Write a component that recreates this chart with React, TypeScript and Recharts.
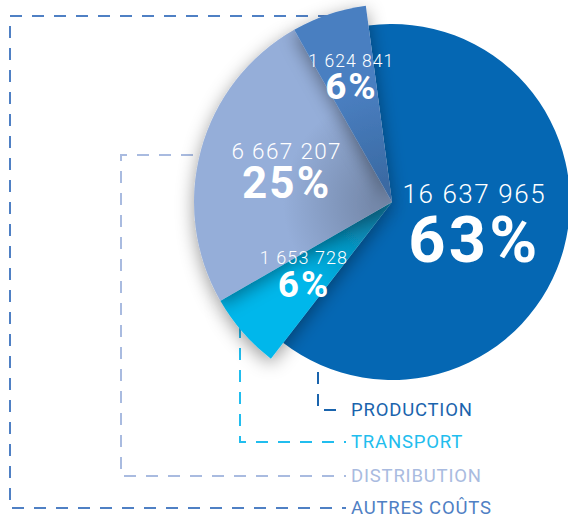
import { Cell, Pie, PieChart } from 'recharts'

const categories = ['PRODUCTION', 'TRANSPORT', 'DISTRIBUTION', 'AUTRES COÛTS']
const costs = [16637965, 1653728, 6667207, 1624841]

const sliceColors = ['#0567b3', '#00b7eb', '#95aed9', '#4a7fc1']
const legendColors = ['#1a64ad', '#21bdee', '#a9bbe0', '#4f80c4']

const data = categories.map((name, i) => ({ name, value: costs[i] }))

const CX = 392
const CY = 202
const START = 97.6
const RAD = Math.PI / 180

// label placement per slice: radius fraction, angle tweak, font sizes, line gap
const labelLayout = [
  { k: 0.47, da: 5, num: 26, pct: 65, gap: 23 },
  { k: 0.565, da: -3, num: 18, pct: 37, gap: 13.5 },
  { k: 0.56, da: -3, num: 22.5, pct: 44, gap: 16 },
  { k: 0.68, da: -1, num: 17.5, pct: 37, gap: 13 },
]

const fmt = (v: number) => String(v).replace(/\B(?=(\d{3})+(?!\d))/g, ' ')

function makeLabel(only: (i: number) => boolean) {
  return (props: any) => {
    const { cx, cy, midAngle, outerRadius, index, value, percent } = props
    if (!only(index)) return null
    const l = labelLayout[index]
    const a = (midAngle + l.da) * RAD
    const x = cx + outerRadius * l.k * Math.cos(a)
    const y = cy - outerRadius * l.k * Math.sin(a)
    return (
      <g key={`lbl-${index}`}>
        <text x={x} y={y - l.gap} fill="#fff" textAnchor="middle" dominantBaseline="central"
          fontFamily="Roboto" fontWeight={300} fontSize={l.num} letterSpacing={l.num * 0.06}>
          {fmt(value)}
        </text>
        <text x={x} y={y + l.gap} fill="#fff" textAnchor="middle" dominantBaseline="central"
          fontFamily="Roboto" fontWeight={700} fontSize={l.pct} letterSpacing={l.pct * 0.05}>
          {Math.round(percent * 100)}%
        </text>
      </g>
    )
  }
}

// leader lines from each slice down to its legend entry
const leaders = [
  { d: 'M318 372 V410 H346', y: 410 },
  { d: 'M240 326 V442 H346', y: 442 },
  { d: 'M215 155 H121 V476 H346', y: 476 },
  { d: 'M330 16 H10 V508 H346', y: 508 },
]

export default function App() {
  return (
    <div style={{ position: 'absolute', left: 0, top: 0, width: 568, height: 519, background: '#fff' }}>
      <svg width={568} height={519} style={{ position: 'absolute', left: 0, top: 0 }}>
        {leaders.map((l, i) => (
          <g key={i}>
            <path d={l.d} fill="none" stroke={legendColors[i]} strokeWidth={2} strokeDasharray="12 10" />
            <text x={351} y={l.y} dominantBaseline="central" fill={legendColors[i]}
              fontFamily="Roboto" fontSize={18.5} letterSpacing={0.8}>
              {categories[i]}
            </text>
          </g>
        ))}
      </svg>
      <div style={{ position: 'absolute', left: 0, top: 0 }}>
        <PieChart width={568} height={519} margin={{ top: 0, right: 0, bottom: 0, left: 0 }}>
          <defs>
            <filter id="shadow" x="-50%" y="-50%" width="200%" height="200%">
              <feDropShadow dx={0} dy={5} stdDeviation={9} floodColor="#000" floodOpacity={0.4} />
            </filter>
            <radialGradient id="g1" gradientUnits="userSpaceOnUse" cx={CX} cy={CY} r={198}>
              <stop offset="0.1" stopColor="#0a7fa8" />
              <stop offset="0.6" stopColor="#00b7eb" />
            </radialGradient>
            <radialGradient id="g2" gradientUnits="userSpaceOnUse" cx={CX} cy={CY} r={198}>
              <stop offset="0.1" stopColor="#7589ab" />
              <stop offset="0.55" stopColor="#95aed9" />
            </radialGradient>
            <radialGradient id="g3" gradientUnits="userSpaceOnUse" cx={CX} cy={CY} r={198}>
              <stop offset="0.1" stopColor="#3a6aa3" />
              <stop offset="0.6" stopColor="#4a7fc1" />
            </radialGradient>
          </defs>
          <Pie
            data={data}
            dataKey="value"
            cx={CX}
            cy={CY}
            outerRadius={178}
            startAngle={START}
            endAngle={START - 360}
            stroke="none"
            isAnimationActive={false}
            labelLine={false}
            label={makeLabel((i) => i === 0)}
          >
            {data.map((d, i) => (
              <Cell key={d.name} fill={i === 0 ? sliceColors[0] : 'none'} />
            ))}
          </Pie>
          <Pie
            data={data}
            dataKey="value"
            cx={CX}
            cy={CY}
            outerRadius={198}
            startAngle={START}
            endAngle={START - 360}
            stroke="none"
            isAnimationActive={false}
            labelLine={false}
            label={makeLabel((i) => i !== 0)}
          >
            {data.map((d, i) => (
              <Cell
                key={d.name}
                fill={i === 0 ? 'none' : `url(#g${i})`}
                filter={i === 0 ? undefined : 'url(#shadow)'}
              />
            ))}
          </Pie>
        </PieChart>
      </div>
    </div>
  )
}
